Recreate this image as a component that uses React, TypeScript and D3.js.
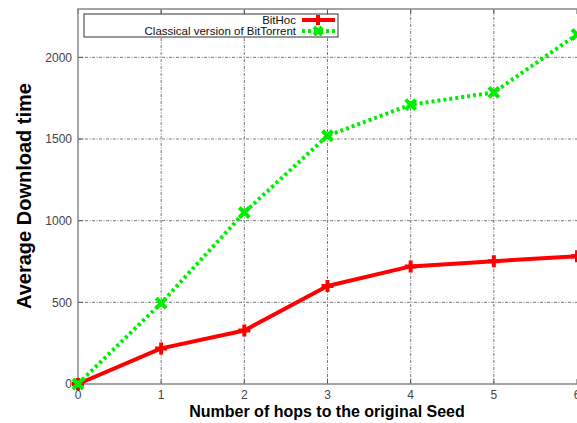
import React from "react";
import * as d3 from "d3";

const hops = [0, 1, 2, 3, 4, 5, 6];
const bithoc = [0, 218, 328, 600, 720, 752, 782];
const bittorrent = [0, 495, 1050, 1520, 1710, 1785, 2140];
const yTicks = [0, 500, 1000, 1500, 2000];
const xTicks = [0, 1, 2, 3, 4, 5, 6];
const seriesNames = ["BitHoc", "Classical version of BitTorrent"];

const W = 577, H = 423;
const M = { left: 78, right: 577, top: 9, bottom: 384 };

export default function App() {
  const x = d3.scaleLinear().domain([0, 6]).range([M.left, M.right]);
  const y = d3.scaleLinear().domain([0, 2296]).range([M.bottom, M.top]);
  const line = d3.line<number>().x((_, i) => x(hops[i])).y((d) => y(d));
  const font = "'Liberation Sans', Arial, sans-serif";
  const plus = (cx: number, cy: number, s: number, key: string) => (
    <path key={key} d={`M${cx - s},${cy}H${cx + s}M${cx},${cy - s}V${cy + s}`} stroke="#ff0000" strokeWidth={4} />
  );
  const cross = (cx: number, cy: number, s: number, key: string) => (
    <path key={key} d={`M${cx - s},${cy - s}L${cx + s},${cy + s}M${cx - s},${cy + s}L${cx + s},${cy - s}`} stroke="#00ee00" strokeWidth={4} />
  );
  return (
    <div style={{ position: "fixed", left: 0, top: 0 }}>
      <svg width={W} height={H} style={{ display: "block", background: "#fff" }} fontFamily={font}>
        {/* grid */}
        {xTicks.filter((t) => t > 0 && t < 6).map((t) => (
          <line key={"gx" + t} x1={x(t)} x2={x(t)} y1={M.bottom} y2={M.top} stroke="#555" strokeWidth={0.8} strokeDasharray="3,1.5,1,1.5" />
        ))}
        {yTicks.filter((t) => t > 0).map((t) => (
          <line key={"gy" + t} x1={M.left} x2={M.right} y1={y(t)} y2={y(t)} stroke="#555" strokeWidth={0.8} strokeDasharray="3,1.5,1,1.5" />
        ))}
        {/* tick marks */}
        {xTicks.map((t) => (
          <g key={"tx" + t}>
            <line x1={x(t)} x2={x(t)} y1={M.bottom} y2={M.bottom - 5} stroke="#555" />
            <line x1={x(t)} x2={x(t)} y1={M.top} y2={M.top + 5} stroke="#555" />
          </g>
        ))}
        {yTicks.map((t) => (
          <line key={"ty" + t} x1={M.left} x2={M.left + 5} y1={y(t)} y2={y(t)} stroke="#555" />
        ))}
        {/* frame */}
        <path d={`M${M.right},${M.top}H${M.left}V${M.bottom}H${M.right}`} fill="none" stroke="#888" strokeWidth={1.5} />
        {/* tick labels */}
        {yTicks.map((t) => (
          <text key={"ly" + t} x={M.left - 6} y={y(t)} dy="0.35em" textAnchor="end" fontSize={12} fill="#444">{t}</text>
        ))}
        {xTicks.map((t) => (
          <text key={"lx" + t} x={x(t)} y={M.bottom + 15} textAnchor="middle" fontSize={12} fill="#444">{t}</text>
        ))}
        {/* titles */}
        <text transform={`translate(31,196) rotate(-90)`} textAnchor="middle" fontSize={20} fontWeight="bold" fill="#000">Average Download time</text>
        <text x={327} y={417} textAnchor="middle" fontSize={16} fontWeight="bold" fill="#000">Number of hops to the original Seed</text>
        {/* series */}
        <path d={line(bithoc) || ""} fill="none" stroke="#ff0000" strokeWidth={4} strokeLinejoin="round" />
        {bithoc.map((v, i) => plus(x(hops[i]), y(v), 6, "p" + i))}
        <path d={line(bittorrent) || ""} fill="none" stroke="#00ee00" strokeWidth={4} strokeDasharray="3,3" />
        {bittorrent.map((v, i) => cross(x(hops[i]), y(v), 5, "c" + i))}
        {/* legend */}
        <rect x={84} y={14} width={254} height={23} fill="#fff" stroke="#333" strokeWidth={1} />
        <text x={296} y={20} dy="0.35em" textAnchor="end" fontSize={11.5} fill="#111">{seriesNames[0]}</text>
        <text x={296} y={31} dy="0.35em" textAnchor="end" fontSize={11.5} fill="#111">{seriesNames[1]}</text>
        <line x1={302} x2={335} y1={20} y2={20} stroke="#ff0000" strokeWidth={4} />
        {plus(318, 20, 5, "lp")}
        <line x1={302} x2={335} y1={31} y2={31} stroke="#00ee00" strokeWidth={4} strokeDasharray="3,3" />
        {cross(318, 31, 4, "lc")}
      </svg>
    </div>
  );
}
